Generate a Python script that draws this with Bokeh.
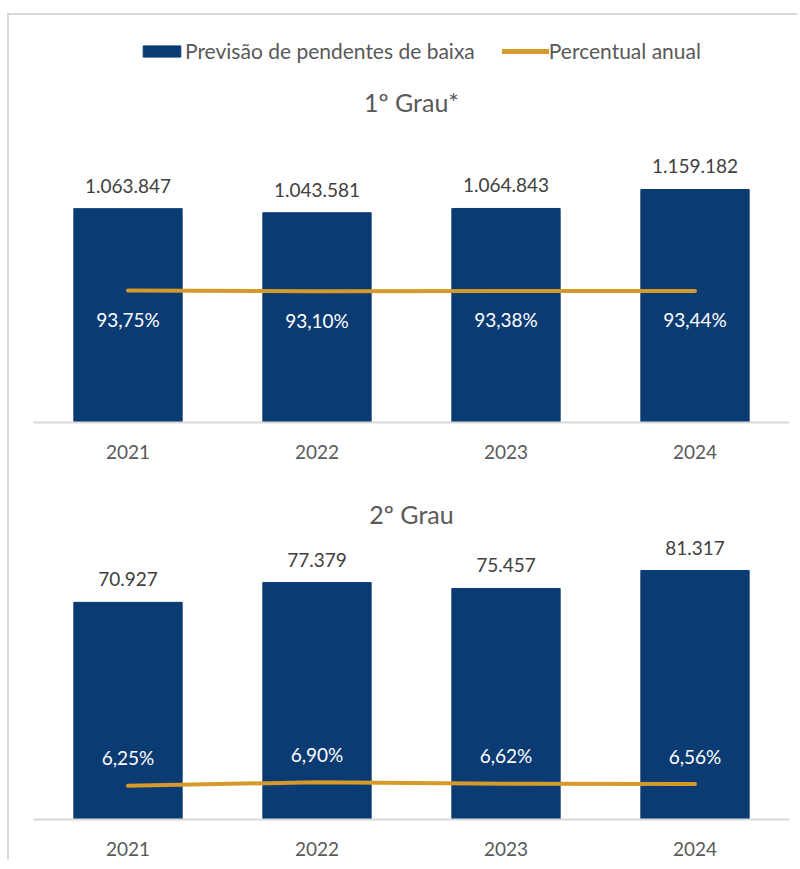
from bokeh.plotting import figure
from bokeh.models import ColumnDataSource, Range1d, FactorRange, Legend, LegendItem, Title
from bokeh.layouts import column
from bokeh.embed import file_html
from bokeh.resources import INLINE
from bokeh.core.properties import value

years = ["2021", "2022", "2023", "2024"]
g1_values = [1063847, 1043581, 1064843, 1159182]
g1_pct = [93.75, 93.10, 93.38, 93.44]
g2_values = [70927, 77379, 75457, 81317]
g2_pct = [6.25, 6.90, 6.62, 6.56]
series_names = ["Previsão de pendentes de baixa", "Percentual anual"]

BAR = "#0B3B73"
LINE = "#D69A2A"
GRID = "#D9D9D9"
TXT = "#595959"
FONT = "Lato"


def fmt_int(v):
    return f"{v:,}".replace(",", ".")


def fmt_pct(v):
    return f"{v:.2f}".replace(".", ",") + "%"


def base_fig(**kw):
    p = figure(width=790, output_backend="svg", toolbar_location=None,
               y_axis_location=None, min_border_left=24, min_border_right=10, **kw)
    p.outline_line_color = None
    p.grid.grid_line_color = None
    p.background_fill_color = "white"
    p.border_fill_color = "white"
    return p


def make_source(values, pct):
    return ColumnDataSource(dict(
        year=years, val=values, pct=pct,
        vlab=[fmt_int(v) for v in values],
        plab=[fmt_pct(v) for v in pct],
    ))


def panel(values, pct, title, height, top, bottom, bar_end, pct_end, pct_offset, standoff):
    src = make_source(values, pct)
    p = base_fig(x_range=FactorRange(*years, range_padding=0), y_range=Range1d(0, bar_end),
                 height=height, min_border_top=top, min_border_bottom=bottom)
    p.extra_y_ranges = {"pct": Range1d(0, pct_end)}

    p.vbar(x="year", top="val", width=0.573, source=src, color=BAR)
    p.line(x="year", y="pct", source=src, y_range_name="pct", line_color=LINE,
           line_width=4, line_cap="round", line_join="round")

    p.text(x="year", y="val", text="vlab", source=src, text_align="center",
           text_baseline="middle", y_offset=-23, text_font=value(FONT),
           text_font_size="19px", text_color="#404040")
    p.text(x="year", y="pct", text="plab", source=src, y_range_name="pct",
           text_align="center", text_baseline="middle", y_offset=pct_offset,
           text_font=value(FONT), text_font_size="19px", text_color="white")

    ax = p.xaxis[0]
    ax.axis_line_color = GRID
    ax.axis_line_width = 2
    ax.major_tick_line_color = None
    ax.minor_tick_line_color = None
    ax.major_tick_out = 0
    ax.major_label_standoff = 22
    ax.major_label_text_font = FONT
    ax.major_label_text_font_size = "19px"
    ax.major_label_text_color = TXT

    p.add_layout(Title(text=title, align="center", text_font=FONT, text_font_size="25px",
                       text_font_style="normal", text_color=TXT, standoff=standoff), "above")
    return p


# legend strip on top (series renderers hidden, only their legend entries are shown)
lsrc = make_source(g1_values, g1_pct)
pl = base_fig(x_range=FactorRange(*years, range_padding=0), y_range=Range1d(0, 1), height=56,
              x_axis_location=None, min_border_top=0, min_border_bottom=0)
rb = pl.vbar(x="year", top="val", width=0.573, source=lsrc, color=BAR, visible=False)
rl = pl.line(x="year", y="pct", source=lsrc, line_color=LINE, line_width=5,
             line_cap="round", visible=False)
lg = Legend(items=[LegendItem(label=series_names[0], renderers=[rb]),
                   LegendItem(label=series_names[1], renderers=[rl])],
            orientation="horizontal", location=(105, 8),
            glyph_width=47, glyph_height=14, label_standoff=0, spacing=27,
            padding=4, margin=0, inactive_fill_alpha=0,
            label_text_font=FONT, label_text_font_size="21px", label_text_color=TXT,
            border_line_color=None, background_fill_alpha=0)
pl.add_layout(lg, "center")

p1 = panel(g1_values, g1_pct, "1º Grau*", 400, 60, 47, 1457641, 208, 29, 26)
p2 = panel(g2_values, g2_pct, "2º Grau", 391, 62, 41, 94060, 53.3, -28, 6)

pl.styles = {"border-top": "2px solid #D9D9D9", "border-left": "2px solid #D9D9D9"}
p1.styles = {"border-left": "2px solid #D9D9D9"}
p2.styles = {"border-left": "2px solid #D9D9D9"}

lay = column(pl, p1, p2, margin=(13, 0, 0, 7), spacing=0)

open("out.html", "w").write(file_html(lay, INLINE))
